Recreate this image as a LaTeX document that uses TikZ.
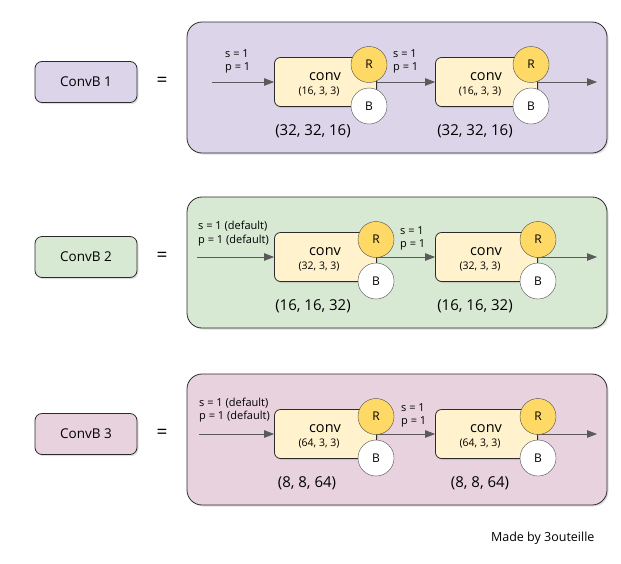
\documentclass[tikz,border=0pt]{standalone}
\usepackage{fontspec}
\setmainfont{Open Sans}
\usetikzlibrary{arrows.meta,shadows}
\definecolor{purp}{HTML}{DCD4E8}
\definecolor{grn}{HTML}{D7E8D3}
\definecolor{pnk}{HTML}{E8D2DE}
\definecolor{convfill}{HTML}{FFF2CC}
\definecolor{rfill}{HTML}{FFD966}
\definecolor{arrowc}{HTML}{5A5A5A}
\definecolor{edgec}{HTML}{2B2B2B}

\tikzset{
  panel/.style={draw=edgec, thick, rounded corners=15pt, minimum width=420pt, minimum height=131pt,
    drop shadow={shadow xshift=1.5pt, shadow yshift=-1.5pt, opacity=0.25}},
  namebox/.style={draw=edgec, thick, rounded corners=7pt, minimum width=102pt, minimum height=41pt,
    font=\fontsize{13.5}{16}\selectfont, drop shadow={shadow xshift=1.5pt, shadow yshift=-1.5pt, opacity=0.25}},
  convbox/.style={draw=edgec, thick, fill=convfill, rounded corners=6pt, minimum width=102pt, minimum height=49pt,
    drop shadow={shadow xshift=1.5pt, shadow yshift=-1.5pt, opacity=0.25}},
  rnode/.style={circle, draw=black!70, fill=rfill, minimum size=36pt, inner sep=0pt, font=\fontsize{12}{14}\selectfont},
  bnode/.style={circle, draw=black!70, fill=white, minimum size=36pt, inner sep=0pt, font=\fontsize{12}{14}\selectfont},
  flow/.style={draw=arrowc, thick, -{Triangle[length=10pt,width=7.5pt]}},
  sp/.style={anchor=west, align=left, inner sep=0pt, font=\fontsize{11}{13.5}\selectfont},
}

\begin{document}
\begin{tikzpicture}[x=1pt, y=-1pt]
\useasboundingbox (0,0) rectangle (621,563);

\foreach \n/\y/\col/\rx/\ix/\inx/\ind/\intext/\mx/\md/\cha/\chb/\dims/\dxa/\dxb in {
  1/82/purp/369/212/225/20.5/{s = 1\\p = 1}/393/20.5/{(16, 3, 3)}/{(16,, 3, 3)}/{(32, 32, 16)}/313/475,
  2/257/grn/376/197/198/23.5/{s = 1 (default)\\p = 1 (default)}/400/18.5/{(32, 3, 3)}/{(32, 3, 3)}/{(16, 16, 32)}/313/475,
  3/434/pnk/376/199/199/24/{s = 1 (default)\\p = 1 (default)}/401/18.5/{(64, 3, 3)}/{(64, 3, 3)}/{(8, 8, 64)}/307/480}{
  % block name and panel
  \node[namebox, fill=\col] (name\n) at (86,\y) {ConvB \n};
  \node[font=\fontsize{19}{20}\selectfont] (eq\n) at (162,\y) {=};
  \node[panel, fill=\col] (panel\n) at (397,\y+5.5) {};
  % two conv layers
  \node[convbox] (convA\n) at (325.5,\y) {};
  \node[convbox] (convB\n) at (486.5,\y) {};
  \node (ktA\n) at (325,\y-5) {\fontsize{14.5}{16}\selectfont conv};
  \node (kpA\n) at (319,\y+10) {\fontsize{10.5}{12}\selectfont \cha};
  \node (ktB\n) at (486,\y-5) {\fontsize{14.5}{16}\selectfont conv};
  \node (kpB\n) at (480,\y+10) {\fontsize{10.5}{12}\selectfont \chb};
  \coordinate (in\n) at (\ix,\y);
  \coordinate (out\n) at (597,\y);
  \draw[flow] (in\n) -- (convA\n);
  \draw[flow] (convA\n) -- (convB\n);
  \draw[flow] (convB\n) -- (out\n);
  \node[rnode] (rA\n) at (\rx,\y-17.5) {R};
  \node[bnode] (bA\n) at (\rx,\y+24) {B};
  \node[rnode] (rB\n) at (\rx+162,\y-17.5) {R};
  \node[bnode] (bB\n) at (\rx+162,\y+24) {B};
  % stride / padding and output sizes
  \node[sp] (spA\n) at (\inx,\y-\ind) {\intext};
  \node[sp] (spB\n) at (\mx,\y-\md) {s = 1\\p = 1};
  \node[font=\fontsize{15}{17}\selectfont] (dA\n) at (\dxa,\y+49) {\dims};
  \node[font=\fontsize{15}{17}\selectfont] (dB\n) at (\dxb,\y+49) {\dims};
}
\node[anchor=east, font=\fontsize{12.5}{15}\selectfont] (credit) at (598,538) {Made by 3outeille};
\end{tikzpicture}
\end{document}
